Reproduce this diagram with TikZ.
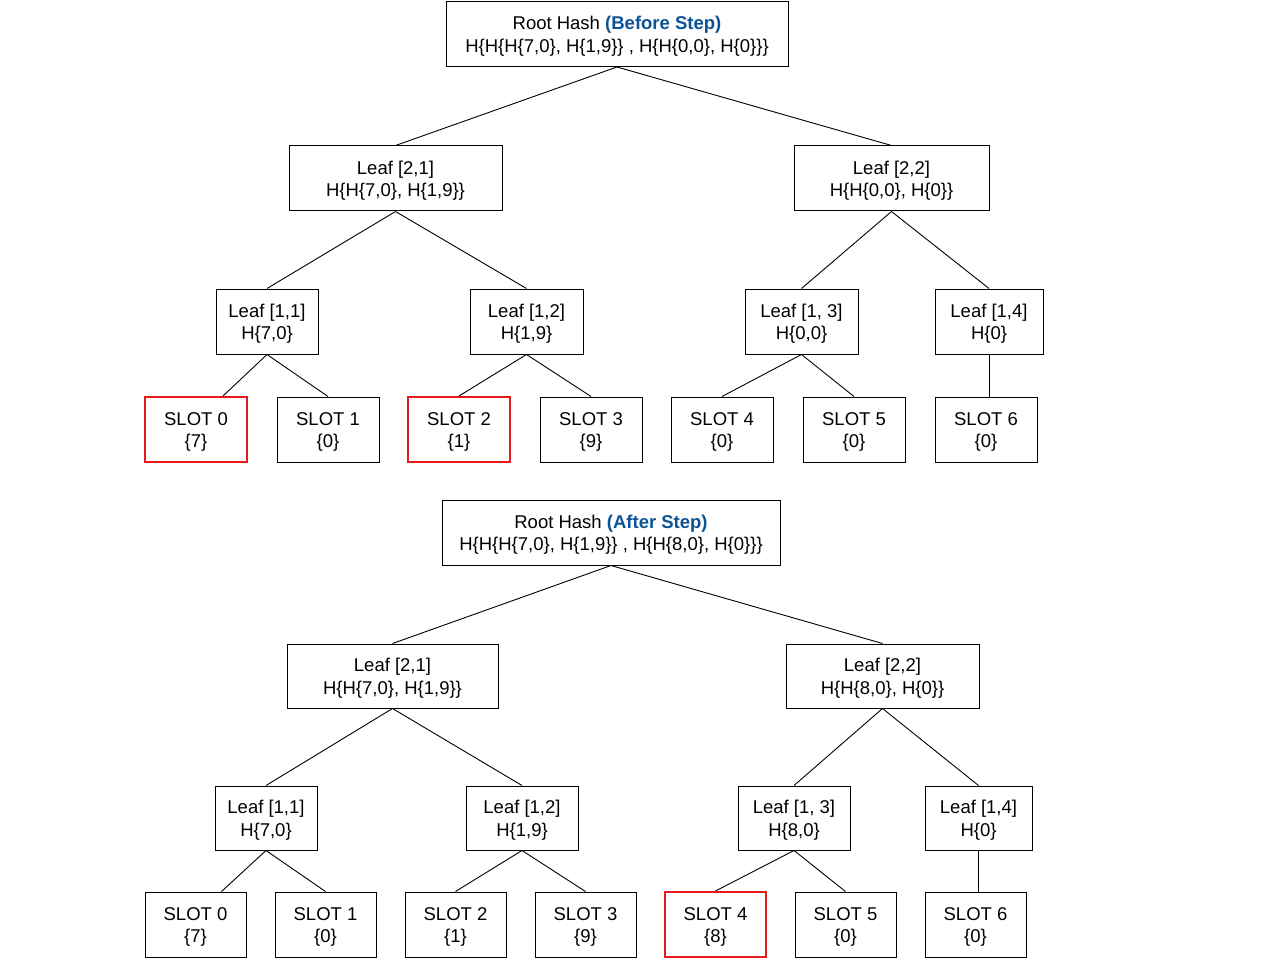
\documentclass[tikz,border=0pt]{standalone}
\usepackage{fontspec}
\setmainfont{Liberation Sans}
\usetikzlibrary{calc}
\definecolor{hlred}{RGB}{230,28,28}
\definecolor{hlblue}{HTML}{0B5394}
\tikzset{
  box/.style={draw=black, line width=1pt, rectangle, inner sep=0pt,
    font=\fontsize{18.5}{22.6}\selectfont, minimum height=65pt},
  redbox/.style={box, draw=hlred, line width=2pt},
  link/.style={draw=black, line width=0.9pt},
}
\newcommand{\hb}[1]{\textcolor{hlblue}{\bfseries #1}}
\newcommand{\tx}[2]{\raisebox{-2.3pt}[\height][\depth]{\begin{tabular}{@{}c@{}}#1\\#2\end{tabular}}}
\begin{document}
\begin{tikzpicture}[x=1pt,y=-1pt]
\useasboundingbox (0,0) rectangle (1280,960);
% ---------- top tree ----------
\node[box, minimum width=342pt] (rootA) at (617,34) {\tx{Root Hash \hb{(Before Step)}}{H\{H\{H\{7,0\}, H\{1,9\}\} , H\{H\{0,0\}, H\{0\}\}\}}};
\node[box, minimum width=213pt] (l21A) at (395.5,178.5) {\tx{Leaf [2,1]}{H\{H\{7,0\}, H\{1,9\}\}}};
\node[box, minimum width=195pt] (l22A) at (891.5,178.5) {\tx{Leaf [2,2]}{H\{H\{0,0\}, H\{0\}\}}};
\node[box, minimum width=102pt] (l11A) at (267,321.5) {\tx{Leaf [1,1]}{H\{7,0\}}};
\node[box, minimum width=113pt] (l12A) at (526.5,321.5) {\tx{Leaf [1,2]}{H\{1,9\}}};
\node[box, minimum width=113pt] (l13A) at (801.5,321.5) {\tx{Leaf [1, 3]}{H\{0,0\}}};
\node[box, minimum width=108pt] (l14A) at (989,321.5) {\tx{Leaf [1,4]}{H\{0\}}};
\node[redbox, minimum width=102pt] (s0A) at (196,429.5) {\tx{SLOT 0}{\{7\}}};
\node[box, minimum width=102pt] (s1A) at (328,429.5) {\tx{SLOT 1}{\{0\}}};
\node[redbox, minimum width=102pt] (s2A) at (459,429.5) {\tx{SLOT 2}{\{1\}}};
\node[box, minimum width=102pt] (s3A) at (591,429.5) {\tx{SLOT 3}{\{9\}}};
\node[box, minimum width=102pt] (s4A) at (722,429.5) {\tx{SLOT 4}{\{0\}}};
\node[box, minimum width=102pt] (s5A) at (854,429.5) {\tx{SLOT 5}{\{0\}}};
\node[box, minimum width=102pt] (s6A) at (986,429.5) {\tx{SLOT 6}{\{0\}}};
\draw[link] (rootA.south) -- (l21A.north);
\draw[link] (rootA.south) -- (l22A.north);
\draw[link] (l21A.south) -- (l11A.north);
\draw[link] (l21A.south) -- (l12A.north);
\draw[link] (l22A.south) -- (l13A.north);
\draw[link] (l22A.south) -- (l14A.north);
\draw[link] (l11A.south) -- ($(s0A.north)+(27,0)$);
\draw[link] (l11A.south) -- (s1A.north);
\draw[link] (l12A.south) -- (s2A.north);
\draw[link] (l12A.south) -- (s3A.north);
\draw[link] (l13A.south) -- (s4A.north);
\draw[link] (l13A.south) -- (s5A.north);
\draw[link] (l14A.south) -- (l14A.south |- s6A.north);
% ---------- bottom tree ----------
\node[box, minimum width=338pt] (rootB) at (611,532.5) {\tx{Root Hash \hb{(After Step)}}{H\{H\{H\{7,0\}, H\{1,9\}\} , H\{H\{8,0\}, H\{0\}\}\}}};
\node[box, minimum width=211pt, minimum height=64pt] (l21B) at (392.5,676) {\tx{Leaf [2,1]}{H\{H\{7,0\}, H\{1,9\}\}}};
\node[box, minimum width=193pt, minimum height=64pt] (l22B) at (882.5,676) {\tx{Leaf [2,2]}{H\{H\{8,0\}, H\{0\}\}}};
\node[box, minimum width=102pt, minimum height=64pt] (l11B) at (266,818) {\tx{Leaf [1,1]}{H\{7,0\}}};
\node[box, minimum width=112pt, minimum height=64pt] (l12B) at (522,818) {\tx{Leaf [1,2]}{H\{1,9\}}};
\node[box, minimum width=112pt, minimum height=64pt] (l13B) at (794,818) {\tx{Leaf [1, 3]}{H\{8,0\}}};
\node[box, minimum width=107pt, minimum height=64pt] (l14B) at (978.5,818) {\tx{Leaf [1,4]}{H\{0\}}};
\node[box, minimum width=101pt] (s0B) at (195.5,924.5) {\tx{SLOT 0}{\{7\}}};
\node[box, minimum width=101pt] (s1B) at (325.5,924.5) {\tx{SLOT 1}{\{0\}}};
\node[box, minimum width=101pt] (s2B) at (455.5,924.5) {\tx{SLOT 2}{\{1\}}};
\node[box, minimum width=101pt] (s3B) at (585.5,924.5) {\tx{SLOT 3}{\{9\}}};
\node[redbox, minimum width=101pt] (s4B) at (715.5,924.5) {\tx{SLOT 4}{\{8\}}};
\node[box, minimum width=101pt] (s5B) at (845.5,924.5) {\tx{SLOT 5}{\{0\}}};
\node[box, minimum width=101pt] (s6B) at (975.5,924.5) {\tx{SLOT 6}{\{0\}}};
\draw[link] (rootB.south) -- (l21B.north);
\draw[link] (rootB.south) -- (l22B.north);
\draw[link] (l21B.south) -- (l11B.north);
\draw[link] (l21B.south) -- (l12B.north);
\draw[link] (l22B.south) -- (l13B.north);
\draw[link] (l22B.south) -- (l14B.north);
\draw[link] (l11B.south) -- ($(s0B.north)+(26,0)$);
\draw[link] (l11B.south) -- (s1B.north);
\draw[link] (l12B.south) -- (s2B.north);
\draw[link] (l12B.south) -- (s3B.north);
\draw[link] (l13B.south) -- (s4B.north);
\draw[link] (l13B.south) -- (s5B.north);
\draw[link] (l14B.south) -- (l14B.south |- s6B.north);
\end{tikzpicture}
\end{document}
